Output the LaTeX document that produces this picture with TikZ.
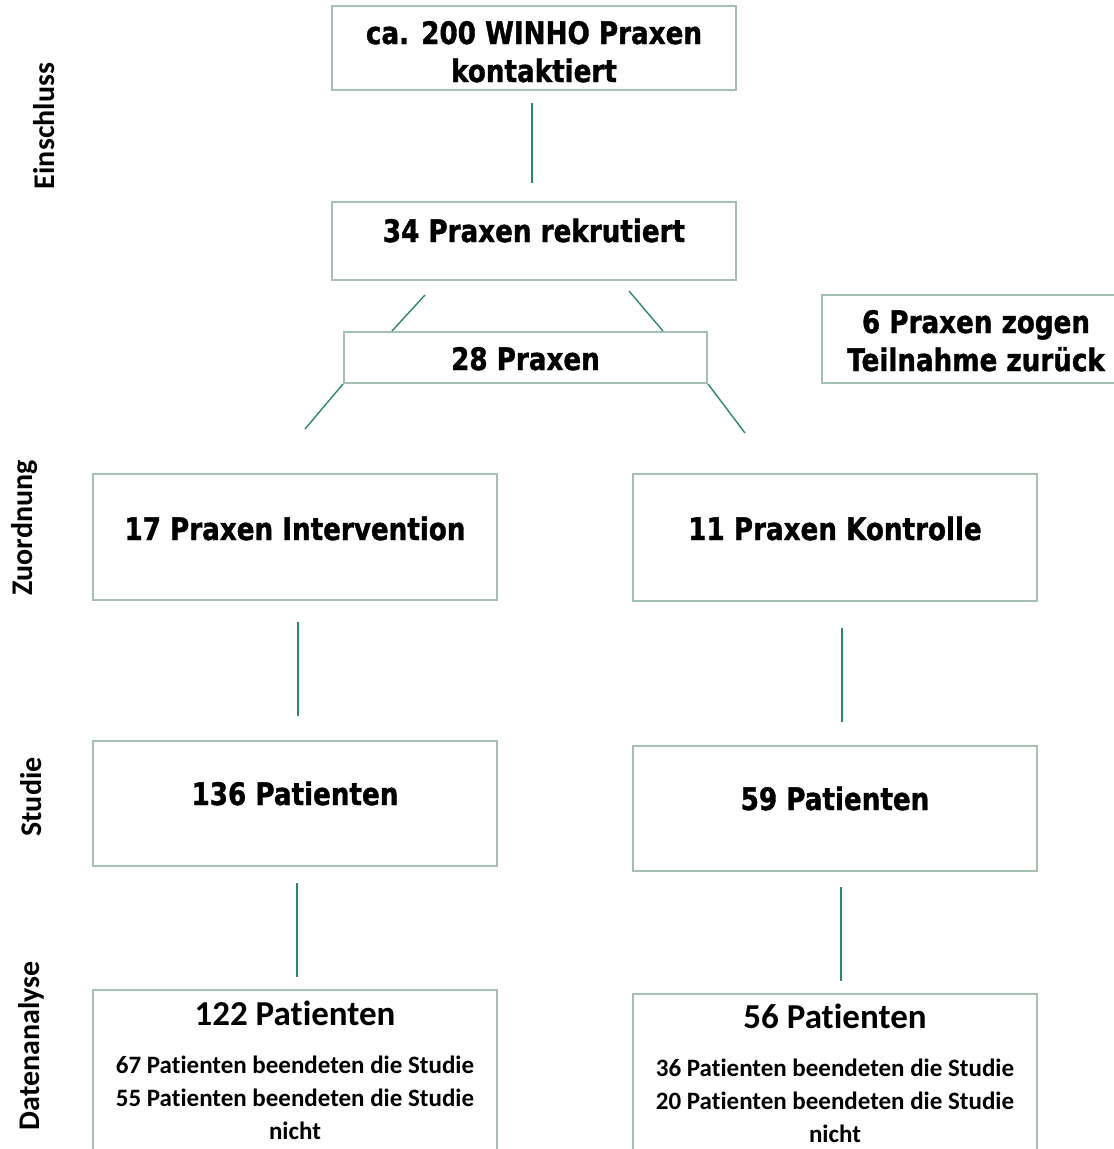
\documentclass[tikz,border=0pt]{standalone}
\usepackage{fontspec}
\usepackage{xcolor}
\usetikzlibrary{positioning}
\newfontfamily\headfont[FakeStretch=0.845, BoldFeatures={FakeBold=1.2}]{DejaVu Sans}
\newfontfamily\bodyfont[Ligatures=NoCommon]{Carlito}
\definecolor{boxline}{RGB}{166,191,176}
\definecolor{linkgreen}{RGB}{46,134,112}

\begin{document}
\begin{tikzpicture}[
    x=1pt, y=-1pt,
    box/.style={draw=boxline, line width=2pt, minimum width=404pt, inner sep=0pt},
    head/.style={font=\headfont\bfseries\fontsize{31}{37}\selectfont, anchor=base, inner sep=0pt},
    big/.style={font=\bodyfont\bfseries\fontsize{35}{42}\selectfont, anchor=base, inner sep=0pt},
    sub/.style={font=\bodyfont\bfseries\fontsize{25}{30}\selectfont, anchor=base, inner sep=0pt},
    phase/.style={font=\bodyfont\bfseries\fontsize{30}{36}\selectfont, rotate=90, inner sep=0pt},
    link/.style={draw=linkgreen, line width=1.4pt}
]
\clip (0,0) rectangle (1114,1149);

% Phase labels
\node (phase-in) [phase] at (44,126) {Einschluss};
\node (phase-as) [phase] at (25,528) {Zuordnung};
\node (phase-st) [phase] at (31,797) {Studie};
\node (phase-da) [phase] at (31,1046) {Datenanalyse};

% Einschluss
\node (contact) [box, minimum height=84pt] at (534,48) {};
\node (contact-t1) [head] at (534,44) {ca. 200 WINHO Praxen};
\node (contact-t2) [head] at (534,82) {kontaktiert};

\node (recruit) [box, minimum height=78pt, below=110pt of contact] {};
\node (recruit-t) [head] at (534,242) {34 Praxen rekrutiert};

\node (pool) [box, minimum width=363pt, minimum height=51pt] at (525.5,357.5) {};
\node (pool-t) [head] at (525.5,370) {28 Praxen};

\node (dropout) [box, minimum width=308pt, minimum height=88pt] at (976,339) {};
\node (dropout-t1) [head] at (976,333) {6 Praxen zogen};
\node (dropout-t2) [head] at (976,371) {Teilnahme zurück};

% Zuordnung
\node (interv) [box, minimum height=126pt] at (295,537) {};
\node (interv-t) [head] at (295,540) {17 Praxen Intervention};

\node (control) [box, minimum height=127pt] at (835,537.5) {};
\node (control-t) [head] at (835,540) {11 Praxen Kontrolle};

% Studie
\node (study-i) [box, minimum height=125pt, below=139pt of interv] {};
\node (study-i-t) [head] at (295,805) {136 Patienten};

\node (study-c) [box, minimum height=125pt, below=143pt of control] {};
\node (study-c-t) [head] at (835,810) {59 Patienten};

% Datenanalyse
\node (analysis-i) [box, minimum height=200pt, below=122pt of study-i] {};
\node (analysis-i-t) [big] at (295,1025) {122 Patienten};
\node (analysis-i-a) [sub] at (295,1073) {67 Patienten beendeten die Studie};
\node (analysis-i-b) [sub] at (295,1106) {55 Patienten beendeten die Studie};
\node (analysis-i-c) [sub] at (295,1139) {nicht};

\node (analysis-c) [box, minimum height=200pt, below=121pt of study-c] {};
\node (analysis-c-t) [big] at (835,1028) {56 Patienten};
\node (analysis-c-a) [sub] at (835,1076) {36 Patienten beendeten die Studie};
\node (analysis-c-b) [sub] at (835,1109) {20 Patienten beendeten die Studie};
\node (analysis-c-c) [sub] at (835,1142) {nicht};

% Connectors
\draw[link, shorten <=12pt, shorten >=18pt] ([xshift=-2pt]contact.south) -- ([xshift=-2pt]recruit.north);

\coordinate (split-l) at (425,295);
\coordinate (split-r) at (629,291);
\draw[link] (split-l) -- ([xshift=49pt]pool.north west);
\draw[link] (split-r) -- ([xshift=-45pt]pool.north east);

\coordinate (to-interv) at (305,429);
\coordinate (to-control) at (745,433);
\draw[link] (pool.south west) -- (to-interv);
\draw[link] (pool.south east) -- (to-control);

\draw[link, shorten <=21pt, shorten >=24pt] ([xshift=3pt]interv.south) -- ([xshift=3pt]study-i.north);
\draw[link, shorten <=26pt, shorten >=23pt] ([xshift=7pt]control.south) -- ([xshift=7pt]study-c.north);
\draw[link, shorten <=16pt, shorten >=12pt] ([xshift=2pt]study-i.south) -- ([xshift=2pt]analysis-i.north);
\draw[link, shorten <=15pt, shorten >=12pt] ([xshift=6pt]study-c.south) -- ([xshift=6pt]analysis-c.north);

\end{tikzpicture}
\end{document}
